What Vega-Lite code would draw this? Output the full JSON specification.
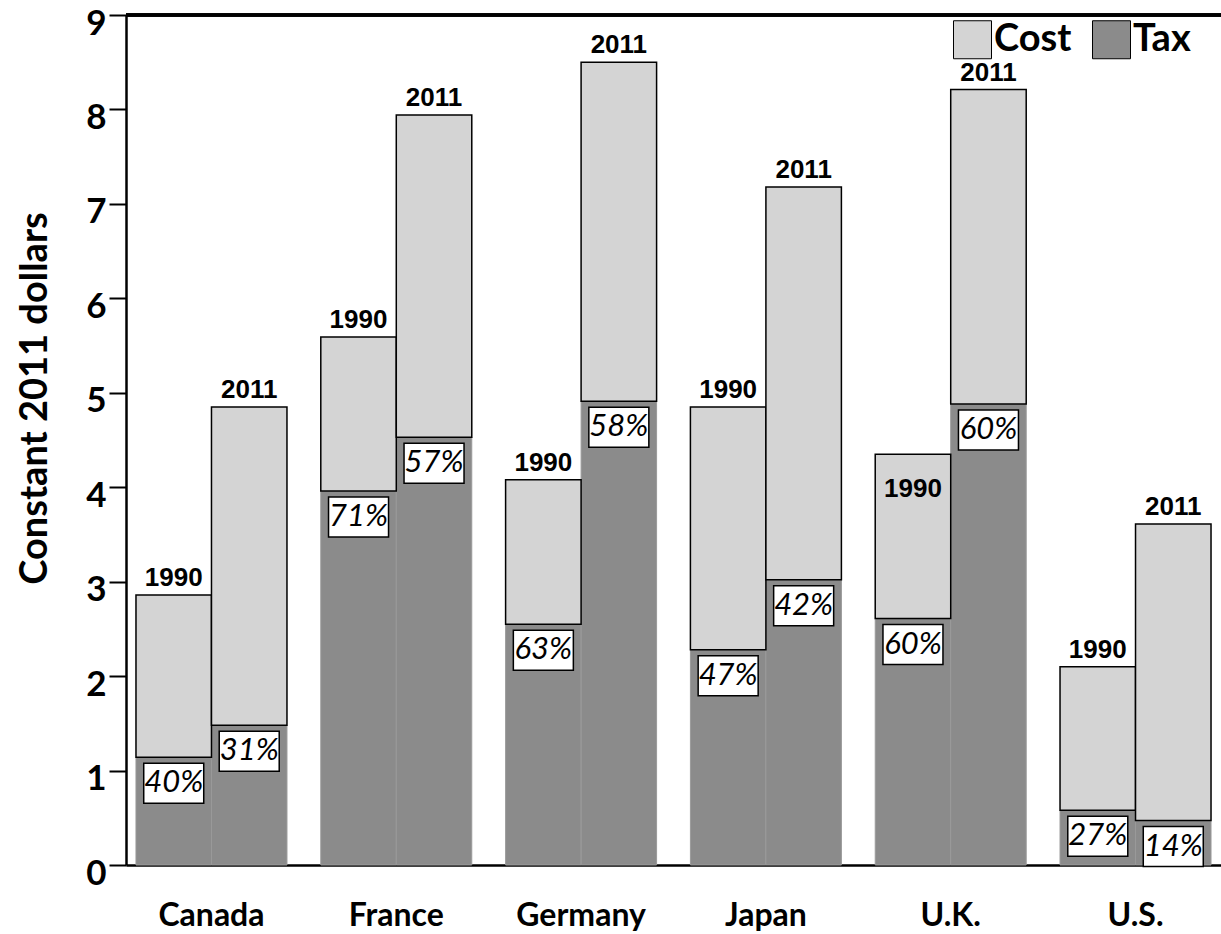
{
  "$schema": "https://vega.github.io/schema/vega-lite/v6.json",
  "autosize": {"type": "none"},
  "width": 1095,
  "height": 850,
  "padding": {"left": 126, "top": 15, "right": 0, "bottom": 69},
  "background": "white",
  "config": {"view": {"stroke": null}},
  "data": {
    "values": [
      {"country": "Canada", "year": "1990", "total": 2.86, "tax": 1.14, "pct": "40%"},
      {"country": "Canada", "year": "2011", "total": 4.85, "tax": 1.48, "pct": "31%"},
      {"country": "France", "year": "1990", "total": 5.59, "tax": 3.96, "pct": "71%"},
      {"country": "France", "year": "2011", "total": 7.94, "tax": 4.53, "pct": "57%"},
      {"country": "Germany", "year": "1990", "total": 4.08, "tax": 2.55, "pct": "63%"},
      {"country": "Germany", "year": "2011", "total": 8.50, "tax": 4.91, "pct": "58%"},
      {"country": "Japan", "year": "1990", "total": 4.85, "tax": 2.28, "pct": "47%"},
      {"country": "Japan", "year": "2011", "total": 7.18, "tax": 3.02, "pct": "42%"},
      {"country": "U.K.", "year": "1990", "total": 4.35, "tax": 2.61, "pct": "60%"},
      {"country": "U.K.", "year": "2011", "total": 8.21, "tax": 4.88, "pct": "60%"},
      {"country": "U.S.", "year": "1990", "total": 2.10, "tax": 0.58, "pct": "27%"},
      {"country": "U.S.", "year": "2011", "total": 3.61, "tax": 0.47, "pct": "14%"}
    ]
  },
  "encoding": {
    "x": {
      "field": "country", "type": "nominal", "sort": null,
      "scale": {"paddingInner": 0.183, "paddingOuter": 0.054},
      "axis": {
        "title": null, "orient": "bottom", "labelAngle": 0,
        "domain": true, "domainColor": "black", "domainWidth": 2.5,
        "ticks": false, "tickSize": 0,
        "labelFont": "Lato", "labelFontSize": 32, "labelFontWeight": "bold", "labelColor": "black",
        "labelBaseline": "alphabetic", "labelPadding": 60
      }
    },
    "xOffset": {"field": "year", "type": "nominal", "scale": {"paddingInner": 0, "paddingOuter": 0}}
  },
  "layer": [
    {
      "mark": {"type": "rule", "stroke": "black", "strokeWidth": 2.5},
      "encoding": {"y": {"datum": 9}, "x": null, "xOffset": null}
    },
    {
      "mark": {"type": "bar", "stroke": "#9a9a9a", "strokeWidth": 1},
      "encoding": {
        "y": {
          "field": "tax", "type": "quantitative",
          "scale": {"domain": [0, 9], "nice": false, "zero": true},
          "axis": {
            "title": "Constant 2011 dollars",
            "titleFont": "Lato", "titleFontSize": 38, "titleFontWeight": "bold", "titleColor": "black",
            "titleAngle": 270, "titleBaseline": "alphabetic", "titleX": -80, "titleY": 383, "titleAlign": "center",
            "values": [0, 0.5, 1, 1.5, 2, 2.5, 3, 3.5, 4, 4.5, 5, 5.5, 6, 6.5, 7, 7.5, 8, 8.5, 9],
            "format": "d",
            "labelExpr": "datum.value % 1 === 0 ? datum.label : ''",
            "labelFont": "Lato", "labelFontSize": 35, "labelFontWeight": "bold", "labelColor": "black",
            "labelOffset": 8, "labelPadding": 3,
            "tickSize": 17, "tickColor": "black", "tickWidth": 2,
            "domain": true, "domainColor": "black", "domainWidth": 2.5,
            "grid": false,
            "encode": {"ticks": {"update": {"x2": {"signal": "datum.value % 1 === 0 ? -18 : -10"}}}}
          }
        },
        "y2": {"datum": 0},
        "color": {
          "datum": "Tax",
          "scale": {"domain": ["Cost", "Tax"], "range": ["#d4d4d4", "#8b8b8b"]},
          "legend": {
            "title": null, "orient": "none", "legendX": 827, "legendY": 5,
            "direction": "horizontal", "symbolType": "square", "symbolSize": 1444,
            "symbolStrokeColor": "#222", "symbolStrokeWidth": 1,
            "labelFont": "Lato", "labelFontSize": 38, "labelFontWeight": "bold", "labelColor": "black",
            "labelOffset": 2, "columnPadding": 18, "padding": 0
          }
        }
      }
    },
    {
      "mark": {"type": "bar", "stroke": "black", "strokeWidth": 1.5},
      "encoding": {
        "y": {"field": "total", "type": "quantitative"},
        "y2": {"field": "tax"},
        "color": {"datum": "Cost"}
      }
    },
    {
      "transform": [{"filter": "!(datum.country === 'U.K.' && datum.year === '1990')"}],
      "mark": {"type": "text", "font": "Liberation Sans", "fontSize": 26, "fontWeight": "bold", "color": "black", "baseline": "alphabetic", "dy": -9},
      "encoding": {"y": {"field": "total", "type": "quantitative"}, "text": {"field": "year"}}
    },
    {
      "transform": [{"filter": "datum.country === 'U.K.' && datum.year === '1990'"}],
      "mark": {"type": "text", "font": "Liberation Sans", "fontSize": 26, "fontWeight": "bold", "color": "black", "baseline": "alphabetic", "dy": 43},
      "encoding": {"y": {"field": "total", "type": "quantitative"}, "text": {"field": "year"}}
    },
    {
      "mark": {"type": "bar", "width": 60, "fill": "white", "stroke": "black", "strokeWidth": 1.5, "yOffset": 6, "y2Offset": 46},
      "encoding": {"y": {"field": "tax", "type": "quantitative"}, "y2": {"field": "tax"}}
    },
    {
      "mark": {"type": "text", "font": "Lato", "fontSize": 31, "fontStyle": "italic", "color": "black", "baseline": "middle", "dy": 26},
      "encoding": {"y": {"field": "tax", "type": "quantitative"}, "text": {"field": "pct"}}
    }
  ]
}
